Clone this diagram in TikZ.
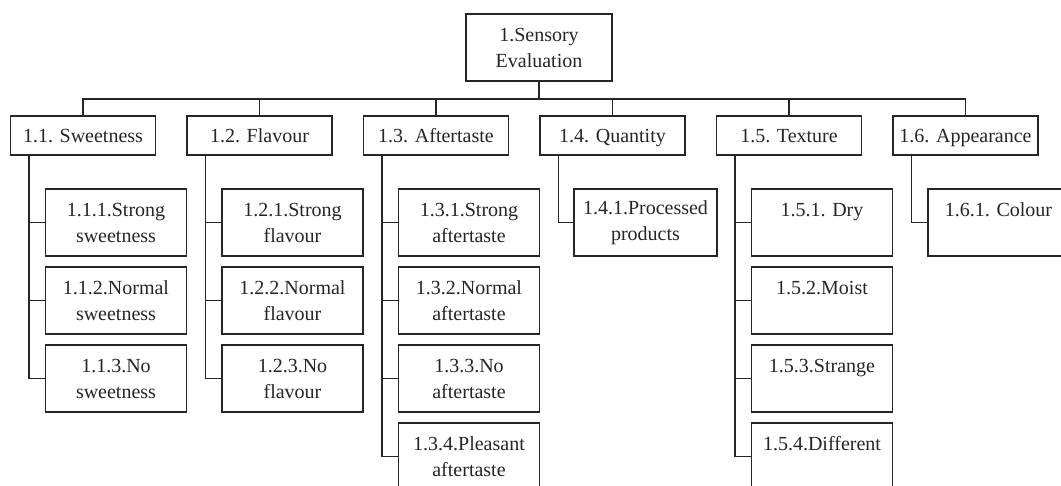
\documentclass[tikz,border=0pt]{standalone}
\usepackage{fontspec}
\setmainfont{Liberation Serif}
\definecolor{ink}{RGB}{38,38,38}
\begin{document}
\begin{tikzpicture}[x=1pt,y=-1pt,
  box/.style={draw=ink, line width=1.6pt, inner sep=0pt, align=center,
    font=\fontsize{20}{26}\selectfont, text=ink},
  head/.style={box, minimum width=146pt, minimum height=67pt},
  cat/.style={box, minimum width=145pt, minimum height=39pt,
    text height=14pt, text depth=0pt},
  item/.style={box, minimum width=141pt, minimum height=67pt},
  link/.style={draw=ink, line width=1.6pt}]
  % canvas
  \useasboundingbox (0,0) rectangle (1061,486);
  \clip (0,0) rectangle (1061,486);
  \fill[white] (0,0) rectangle (1061,486);

  % root
  \node[head] (root) at (539,47.5) {1.Sensory\\Evaluation};

  % first level
  \node[cat] (c1) at (83,135.5)    {1.1. Sweetness};
  \node[cat] (c2) at (259.5,135.5) {1.2. Flavour};
  \node[cat] (c3) at (436,135.5)   {1.3. Aftertaste};
  \node[cat] (c4) at (612.5,135.5) {1.4. Quantity};
  \node[cat] (c5) at (789,135.5)   {1.5. Texture};
  \node[cat] (c6) at (965.5,135.5) {1.6. Appearance};

  % second level
  \node[item] (c11) at (116,222.5) {1.1.1.Strong\\sweetness};
  \node[item] (c12) at (116,300.5) {1.1.2.Normal\\sweetness};
  \node[item] (c13) at (116,378.5) {1.1.3.No\\sweetness};

  \node[item] (c21) at (292.5,222.5) {1.2.1.Strong\\flavour};
  \node[item] (c22) at (292.5,300.5) {1.2.2.Normal\\flavour};
  \node[item] (c23) at (292.5,378.5) {1.2.3.No\\flavour};

  \node[item] (c31) at (469,222.5) {1.3.1.Strong\\aftertaste};
  \node[item] (c32) at (469,300.5) {1.3.2.Normal\\aftertaste};
  \node[item] (c33) at (469,378.5) {1.3.3.No\\aftertaste};
  \node[item] (c34) at (469,456.5) {1.3.4.Pleasant\\aftertaste};

  \node[item, minimum width=143pt] (c41) at (645.5,222.5) {1.4.1.Processed\\products};

  \node[item] (c51) at (822,222.5) {1.5.1. Dry\\\mbox{}};
  \node[item] (c52) at (822,300.5) {1.5.2.Moist\\\mbox{}};
  \node[item] (c53) at (822,378.5) {1.5.3.Strange\\\mbox{}};
  \node[item] (c54) at (822,456.5) {1.5.4.Different\\\mbox{}};

  \node[item] (c61) at (998.5,222.5) {1.6.1. Colour\\\mbox{}};

  % root to first level
  \foreach \c in {c1,c2,c3,c4,c5,c6}
    \draw[link] (root.south) -- ++(0,17) -| (\c.north);

  % first level to second level
  \foreach \p/\c in {c1/c11,c1/c12,c1/c13,
                     c2/c21,c2/c22,c2/c23,
                     c3/c31,c3/c32,c3/c33,c3/c34,
                     c4/c41,
                     c5/c51,c5/c52,c5/c53,c5/c54,
                     c6/c61}
    \draw[link] ([xshift=-54pt]\p.south) |- (\c.west);
\end{tikzpicture}
\end{document}
